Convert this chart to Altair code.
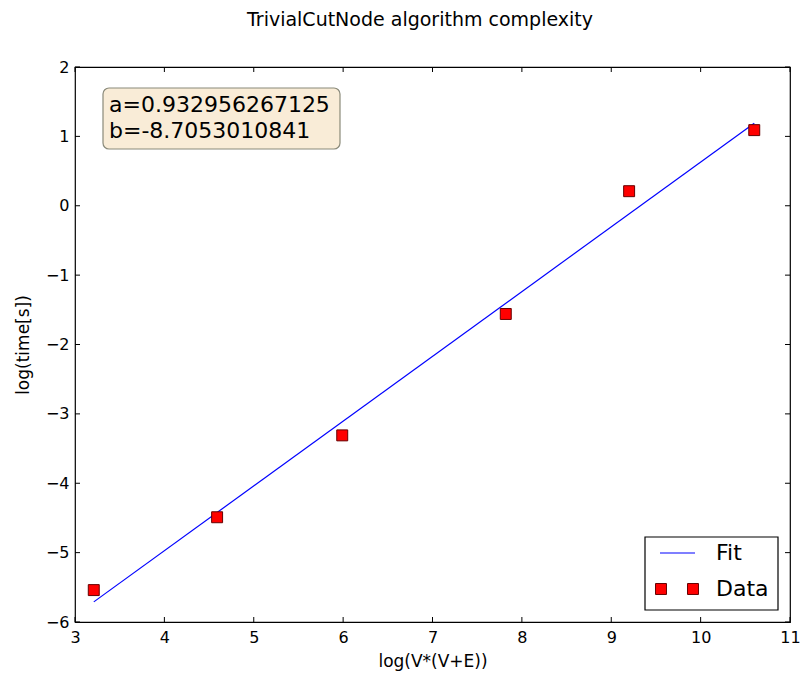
import altair as alt
import pandas as pd

# Data
data_x = [3.21, 4.59, 5.99, 7.82, 9.20, 10.60]
data_y = [-5.54, -4.49, -3.31, -1.56, 0.21, 1.09]
fit_x = [3.21, 10.60]
fit_y = [-5.71, 1.19]
x_ticks = [3, 4, 5, 6, 7, 8, 9, 10, 11]
y_ticks = [-6, -5, -4, -3, -2, -1, 0, 1, 2]
title_text = "TrivialCutNode algorithm complexity"
box_lines = ["a=0.932956267125", "b=-8.7053010841"]
legend_labels = ["Fit", "Data"]

W, H = 715, 555
FONT = "DejaVu Sans"

df_data = pd.DataFrame({"x": data_x, "y": data_y})
df_fit = pd.DataFrame({"x": fit_x, "y": fit_y})
df_xt = pd.DataFrame({"t": x_ticks})
df_yt = pd.DataFrame({"t": y_ticks})

xs = alt.Scale(domain=[3, 11], nice=False, zero=False)
ys = alt.Scale(domain=[-6, 2], nice=False, zero=False)

x_axis = alt.Axis(values=x_ticks, title="log(V*(V+E))", grid=False, domain=False,
                  ticks=False, labelPadding=7, labelFontSize=16, labelFont=FONT,
                  labelColor="black", labelFlush=False, labelOverlap=False,
                  titleFont=FONT, titleFontSize=17,
                  titleFontWeight="normal", titleColor="black", titlePadding=8,
                  format="d")
y_axis = alt.Axis(values=y_ticks, title="log(time[s])", grid=False, domain=False,
                  ticks=False, labelPadding=6, labelFontSize=16, labelFont=FONT,
                  labelColor="black", labelFlush=False, labelOverlap=False,
                  titleFont=FONT, titleFontSize=17,
                  titleFontWeight="normal", titleColor="black", titlePadding=13,
                  format="d")

fit = alt.Chart(df_fit).mark_line(color="#0000ff", strokeWidth=1.2).encode(
    x=alt.X("x:Q", scale=xs, axis=x_axis),
    y=alt.Y("y:Q", scale=ys, axis=y_axis),
)
pts = alt.Chart(df_data).mark_square(size=120, color="#ff0000", stroke="#660000",
                                     strokeWidth=1, opacity=1, filled=True).encode(
    x=alt.X("x:Q"), y=alt.Y("y:Q"))

TL = 5
xt_bot = alt.Chart(df_xt).mark_rule(color="black", strokeWidth=1).encode(
    x=alt.X("t:Q"), y=alt.value(H), y2=alt.value(H - TL))
xt_top = alt.Chart(df_xt).mark_rule(color="black", strokeWidth=1).encode(
    x=alt.X("t:Q"), y=alt.value(0), y2=alt.value(TL))
yt_left = alt.Chart(df_yt).mark_rule(color="black", strokeWidth=1).encode(
    y=alt.Y("t:Q"), x=alt.value(0), x2=alt.value(TL))
yt_right = alt.Chart(df_yt).mark_rule(color="black", strokeWidth=1).encode(
    y=alt.Y("t:Q"), x=alt.value(W), x2=alt.value(W - TL))

one = pd.DataFrame({"k": [0]})


def txt(s, x, y, size, align="left"):
    return alt.Chart(one).mark_text(text=s, font=FONT, fontSize=size, align=align,
                                    baseline="middle", color="black").encode(
        x=alt.value(x), y=alt.value(y))


title = txt(title_text, 345, -47, 19, "center")

box = alt.Chart(one).mark_rect(fill="#f9ecd7", stroke="#8a8a7a", strokeWidth=1.2,
                               cornerRadius=6).encode(
    x=alt.value(28), x2=alt.value(265), y=alt.value(21), y2=alt.value(82))
box_t1 = txt(box_lines[0], 34, 38, 22)
box_t2 = txt(box_lines[1], 34, 64, 22)

leg_box = alt.Chart(one).mark_rect(fill="white", stroke="black", strokeWidth=1.2).encode(
    x=alt.value(570), x2=alt.value(703), y=alt.value(470), y2=alt.value(543))
leg_line = alt.Chart(one).mark_rule(color="#0000ff", strokeWidth=1.2).encode(
    x=alt.value(585), x2=alt.value(620), y=alt.value(486))


def leg_square(px):
    return alt.Chart(one).mark_square(size=120, color="#ff0000", stroke="#660000",
                                      strokeWidth=1, opacity=1, filled=True).encode(
        x=alt.value(px), y=alt.value(522))


leg_t1 = txt(legend_labels[0], 641, 486, 22)
leg_t2 = txt(legend_labels[1], 641, 522, 22)

chart = alt.layer(
    fit, pts, xt_bot, xt_top, yt_left, yt_right, title, box, box_t1, box_t2,
    leg_box, leg_line, leg_square(586), leg_square(618), leg_t1, leg_t2
).properties(
    width=W, height=H,
    autosize=alt.AutoSizeParams(type="none"),
    padding={"left": 75, "top": 67, "right": 14, "bottom": 57},
    background="white",
).configure_view(stroke="black", strokeWidth=1.2)

chart.save("out.html", embed_options={"renderer": "svg", "actions": False})
